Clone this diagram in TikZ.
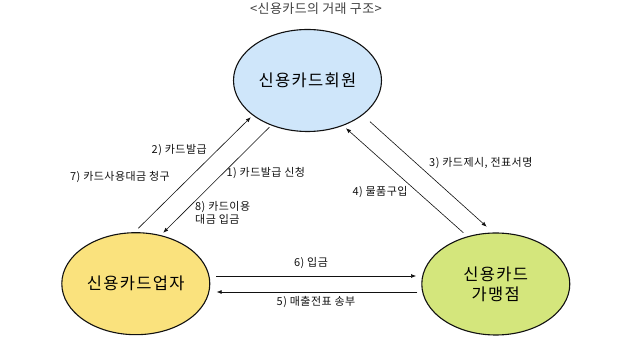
\documentclass[tikz,border=0pt]{standalone}
\usepackage{fontspec}
\setmainfont{Noto Sans CJK KR}
\usetikzlibrary{arrows.meta,shapes.geometric}
\definecolor{holder}{HTML}{CFE6FA}
\definecolor{issuer}{HTML}{FAE27D}
\definecolor{shop}{HTML}{D4E67C}
\definecolor{ink}{HTML}{111111}
\definecolor{soft}{HTML}{404040}
\newcommand{\labfont}{\fontsize{11}{12.5}\selectfont\addfontfeatures{LetterSpace=4}}
\newcommand{\namefont}{\fontsize{16.5}{20}\selectfont\addfontfeatures{LetterSpace=8}}
\newcommand{\capfont}{\fontsize{13}{15}\selectfont\addfontfeatures{LetterSpace=3}}

\begin{document}
\begin{tikzpicture}[x=1pt,y=1pt,font=\labfont,
  party/.style={ellipse,draw=ink,line width=1.1pt,minimum width=148pt,minimum height=102pt,inner sep=0pt,font=\namefont,align=center},
  flow/.style={ink,line width=0.6pt,-{Latex[length=5pt,width=4pt]}},
  tag/.style={inner sep=0pt,text=ink}]
\useasboundingbox (0,0) rectangle (619,337);
\node[tag,font=\capfont,text=soft] (title) at (316,328) {<신용카드의 거래 구조>};
\node[party,fill=holder] (member) at (307.5,256.5) {신용카드회원};
\node[party,fill=issuer] (company) at (135.8,53.3) {신용카드업자};
\node[party,fill=shop] (store) at (495.8,53) {신용카드\\가맹점};
% ends of the flows
\coordinate (issue0) at (138.3,108.7); \coordinate (issue1) at (250.7,219.7);
\coordinate (apply0) at (269.3,209.7); \coordinate (apply1) at (163.3,104.3);
\coordinate (show0) at (370,215.3); \coordinate (show1) at (486.7,110.3);
\coordinate (buy0) at (463.3,104.3); \coordinate (buy1) at (346,208.7);
\coordinate (pay0) at (216,61); \coordinate (pay1) at (416,61);
\coordinate (slip0) at (417.3,45); \coordinate (slip1) at (216.7,45);
\draw[flow] (issue0) -- (issue1);
\draw[flow] (apply0) -- (apply1);
\draw[flow] (show0) -- (show1);
\draw[flow] (buy0) -- (buy1);
\draw[flow] (pay0) -- (pay1);
\draw[flow] (slip0) -- (slip1);
% labels
\node[tag] (l2) at (179.2,187) {2) 카드발급};
\node[tag] (l7) at (120,159.7) {7) 카드사용대금 청구};
\node[tag] (l1) at (265.8,163.7) {1) 카드발급 신청};
\node[tag,anchor=west,align=left] (l8) at (195,124) {8) 카드이용\\대금 입금};
\node[tag] (l3) at (480.8,173.7) {3) 카드제시, 전표서명};
\node[tag] (l4) at (380,145.3) {4) 물품구입};
\node[tag] (l6) at (311,74.3) {6) 입금};
\node[tag] (l5) at (316,35) {5) 매출전표 송부};
\end{tikzpicture}
\end{document}
